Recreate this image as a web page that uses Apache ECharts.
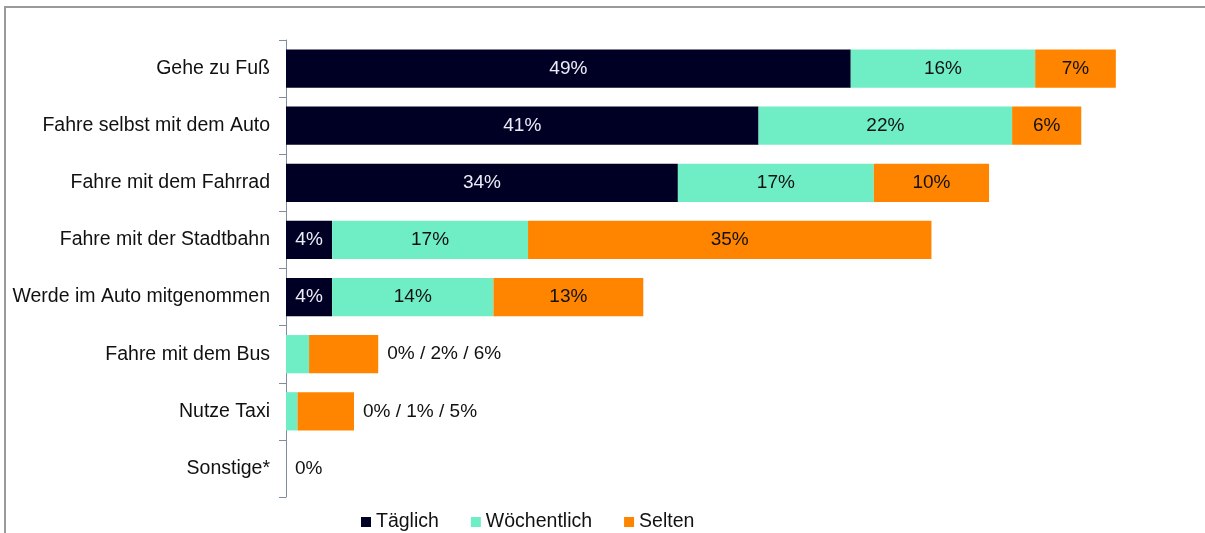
<!DOCTYPE html>
<html><head><meta charset="utf-8">
<script src="https://cdn.jsdelivr.net/npm/echarts@6/dist/echarts.min.js"></script>
<style>html,body{margin:0;padding:0;background:#fff}#c{width:1205px;height:533px}</style>
</head><body><div id="c"></div>
<script>
const categories = ['Gehe zu Fuß','Fahre selbst mit dem Auto','Fahre mit dem Fahrrad','Fahre mit der Stadtbahn','Werde im Auto mitgenommen','Fahre mit dem Bus','Nutze Taxi','Sonstige*'];
const taeglich    = [49, 41, 34, 4, 4, 0, 0, 0];
const woechentlich = [16, 22, 17, 17, 14, 2, 1, 0];
const selten      = [7, 6, 10, 35, 13, 6, 4.9, 0];
const summaryLabels = ['', '', '', '', '', '0% / 2% / 6%', '0% / 1% / 5%', '0%'];
const seriesNames = ['Täglich', 'Wöchentlich', 'Selten'];
const colors = ['#000024', '#6FEEC6', '#FF8500'];

const fontFamily = 'Liberation Sans, Arial, sans-serif';
const font = {fontFamily, fontSize: 19};
const catFont = {fontFamily, fontSize: 19.5};
function items(vals, isLast) {
  return vals.map((v, i) => {
    const s = summaryLabels[i];
    if (s) {
      if (isLast) return {value: v, label: {show: true, position: 'right', distance: 9, formatter: s, color: '#111'}};
      return {value: v, label: {show: false}};
    }
    return {value: v};
  });
}
const chart = echarts.init(document.getElementById('c'));
chart.setOption({
  animation: false,
  color: colors,
  graphic: [{type: 'rect', shape: {x: 5, y: 7, width: 1220, height: 560}, style: {fill: 'none', stroke: '#9a9a9a', lineWidth: 2}}],
  grid: {left: 286, right: 20, top: 40, bottom: 36},
  legend: {data: seriesNames, left: 356, top: 507, itemWidth: 10, itemHeight: 10, itemGap: 32,
    icon: 'rect', textStyle: Object.assign({color: '#111'}, catFont)},
  xAxis: {type: 'value', min: 0, max: 78, show: false},
  yAxis: {type: 'category', data: categories, inverse: true,
    axisLine: {lineStyle: {color: '#7f8e9a', width: 1}},
    axisTick: {show: true, length: 7, lineStyle: {color: '#7f8e9a', width: 1}},
    axisLabel: Object.assign({color: '#111', margin: 16}, catFont)},
  series: [
    {name: seriesNames[0], type: 'bar', stack: 'a', barCategoryGap: '33%', data: items(taeglich, false),
      label: Object.assign({show: true, position: 'inside', color: '#ECECF8', formatter: p => p.value + '%'}, font)},
    {name: seriesNames[1], type: 'bar', stack: 'a', data: items(woechentlich, false),
      label: Object.assign({show: true, position: 'inside', color: '#111', formatter: p => p.value + '%'}, font)},
    {name: seriesNames[2], type: 'bar', stack: 'a', data: items(selten, true),
      label: Object.assign({show: true, position: 'inside', color: '#111', formatter: p => p.value + '%'}, font)}
  ]
});
</script></body></html>
